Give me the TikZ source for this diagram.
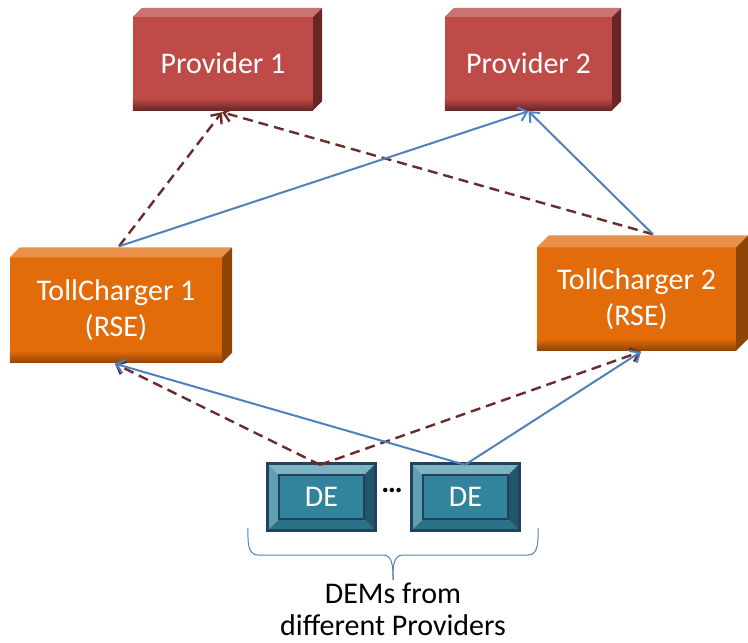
\documentclass[tikz,border=0pt]{standalone}
\usepackage{fontspec}
\setmainfont{Carlito}
\usetikzlibrary{arrows.meta,calc}
\definecolor{provmain}{HTML}{BE4B48}
\definecolor{provtop}{HTML}{C97472}
\definecolor{provside}{HTML}{6A2624}
\definecolor{tcmain}{HTML}{E36C0A}
\definecolor{tctop}{HTML}{E9904A}
\definecolor{tcside}{HTML}{8E4407}
\definecolor{demain}{HTML}{31849B}
\definecolor{detop}{HTML}{7DB4C4}
\definecolor{deleft}{HTML}{5E9FB1}
\definecolor{debot}{HTML}{2A7386}
\definecolor{deright}{HTML}{1F5766}
\definecolor{deframe}{HTML}{23405E}
\definecolor{dashred}{HTML}{6B2B2B}
\definecolor{bluel}{HTML}{4F81BD}
\pgfdeclarelayer{bg}
\pgfsetlayers{bg,main}
\newcommand\slab[5]{%
\begin{pgfonlayer}{bg}
\fill[#2] (#1.south west) rectangle (#1.north east);
\shade[top color=#2, bottom color=#4] (#1.south west) rectangle ($(#1.south east)+(0,-12)$);
\fill[#3] (#1.north west) -- ++(#5,-#5) -- ($(#1.north east)+(#5,-#5)$) -- (#1.north east) -- cycle;
\fill[#4] (#1.north east) -- ++(#5,-#5) -- ($(#1.south east)+(#5,-#5)$) -- (#1.south east) -- cycle;
\end{pgfonlayer}}
\newcommand\debox[1]{%
\begin{pgfonlayer}{bg}
\fill[detop] (#1.north west) -- (#1.north east) -- ($(#1.north east)+(-11,11)$) -- ($(#1.north west)+(11,11)$) -- cycle;
\fill[deleft] (#1.north west) -- ($(#1.north west)+(11,11)$) -- ($(#1.south west)+(11,-11)$) -- (#1.south west) -- cycle;
\fill[debot] (#1.south west) -- (#1.south east) -- ($(#1.south east)+(-11,-11)$) -- ($(#1.south west)+(11,-11)$) -- cycle;
\fill[deright] (#1.north east) -- (#1.south east) -- ($(#1.south east)+(-11,-11)$) -- ($(#1.north east)+(-11,11)$) -- cycle;
\draw[deframe, line width=1.5pt, fill=demain] ($(#1.north west)+(11,11)$) rectangle ($(#1.south east)+(-11,-11)$);
\draw[deframe, line width=3pt] (#1.north west) rectangle (#1.south east);
\end{pgfonlayer}}
\begin{document}
\begin{tikzpicture}[x=1pt,y=-1pt,
  boxtext/.style={inner sep=0pt, text=white, align=center, font=\fontsize{30}{36}\selectfont},
  dashlink/.style={draw=dashred, line width=2.4pt, dash pattern=on 10pt off 6pt, -{Straight Barb[length=8pt,width=14pt,line width=2.4pt]}},
  bluelink/.style={draw=bluel, line width=2pt, -{Straight Barb[length=8pt,width=14pt,line width=2pt]}},
  brace/.style={draw=bluel, line width=1pt}]
\useasboundingbox (0,0) rectangle (748,643);

\node[boxtext, minimum width=180pt, minimum height=93pt] (p1) at (223,63.5) {Provider 1};
\node[boxtext, minimum width=167pt, minimum height=93pt] (p2) at (528.5,63.5) {Provider 2};
\node[boxtext, minimum width=212pt, minimum height=105pt] (tc1) at (116,310) {TollCharger 1\\(RSE)};
\node[boxtext, minimum width=199pt, minimum height=103pt] (tc2) at (636.5,299) {TollCharger 2\\(RSE)};
\node[boxtext, minimum width=107pt, minimum height=66pt] (de1) at (321.5,497) {DE};
\node[boxtext, minimum width=107pt, minimum height=66pt] (de2) at (465.5,497) {DE};
\node[inner sep=0pt, font=\fontsize{30}{36}\selectfont\bfseries] (dots) at (392,490) {…};
\node[inner sep=0pt, align=center, font=\fontsize{30}{32}\selectfont] (lbl) at (393,609) {DEMs from\\different Providers};

\slab{p1}{provmain}{provtop}{provside}{9}
\slab{p2}{provmain}{provtop}{provside}{9}
\slab{tc1}{tcmain}{tctop}{tcside}{10}
\slab{tc2}{tcmain}{tctop}{tcside}{12}
\debox{de1}
\debox{de2}

\coordinate (p1b) at ($(p1.south)+(-1,2)$);
\coordinate (p2b) at ($(p2.south)+(0,1)$);
\coordinate (tc1t) at ($(tc1.north)+(3,-11)$);
\coordinate (tc2t) at ($(tc2.north)+(16.5,-13)$);
\coordinate (tc1b) at ($(tc1.south)+(-1,1)$);
\coordinate (tc2b) at ($(tc2.south)+(4.5,1)$);
\coordinate (de1t) at ($(de1.north)+(-1.5,1)$);
\coordinate (de2t) at ($(de2.north)+(-0.5,1)$);

\draw[dashlink] (de1t) -- (tc1b);
\draw[dashlink] (de1t) -- (tc2b);
\draw[dashlink] (tc1t) -- (p1b);
\draw[dashlink] (tc2t) -- (p1b);
\draw[bluelink] (de2t) -- (tc1b);
\draw[bluelink] (de2t) -- (tc2b);
\draw[bluelink] (tc1t) -- (p2b);
\draw[bluelink] (tc2t) -- (p2b);

\coordinate (brL) at (248,528);
\coordinate (brR) at (538,528);
\coordinate (brT) at (393,580);
\draw[brace] (brL) to[out=-90,in=180] (258,555) -- (383,555) to[out=0,in=90] (brT);
\draw[brace] (brR) to[out=-90,in=0] (528,555) -- (403,555) to[out=180,in=90] (brT);
\end{tikzpicture}
\end{document}
